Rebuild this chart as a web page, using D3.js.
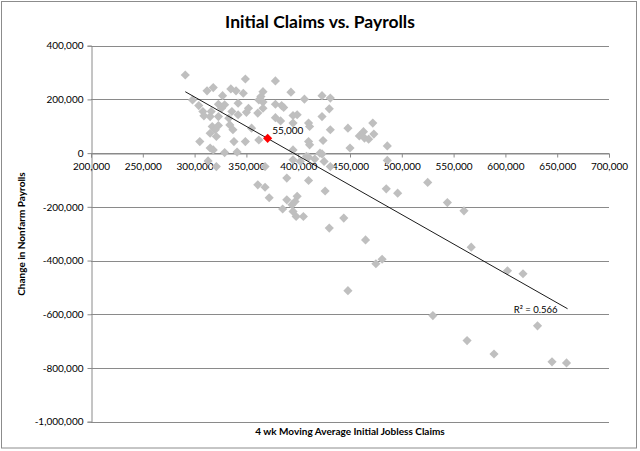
<!DOCTYPE html>
<html>
<head>
<meta charset="utf-8">
<script src="https://cdn.jsdelivr.net/npm/d3@7"></script>
<style>
  html, body { margin: 0; padding: 0; background: #fff; }
  svg { display: block; font-family: Lato, "Open Sans", sans-serif; }
</style>
</head>
<body>
<svg id="chart" width="640" height="451"></svg>
<script>
// Weekly observations: x = 4-wk moving average initial claims, y = change in nonfarm payrolls
const claims = [
  291,298,304,308,309,305,312,318,316,315,317,320,323,321,315,323,326,323,327,329,
  333,335,340,342,336,342,334,337,338,349,347,352,350,355,349,362,361,362,364,366,
  366,366,378,378,384,386,378,383,393,399,395,395,406,410,411,410,411,395,423,431,
  430,423,431,424,448,450,459,463,464,468,472,473,486,315,318,329,341,313,321,421,
  408,395,402,410,416,423,425,431,486,368,389,410,361,368,372,426,389,399,397,394,
  385,395,398,405,444,430,485,496,525,544,560,465,475,481,448,567,602,617,530,631,
  563,589,645,659
].map(v => v * 1000);
const payrolls = [
  291,198,177,155,139,43,232,244,155,136,99,87,103,62,74,136,167,182,214,180,
  130,239,232,186,155,143,105,87,43,276,223,167,152,93,43,49,149,198,211,229,
  190,167,269,182,177,170,132,120,227,143,140,112,201,112,99,43,31,12,214,205,
  165,136,87,47,93,19,64,80,56,52,112,71,27,19,12,2,4,-29,-50,0,
  -12,-25,-31,-15,-22,-3,-31,-50,-27,-50,-93,-102,-118,-127,-166,-141,-174,-161,-180,-192,
  -208,-217,-236,-236,-242,-279,-133,-149,-109,-184,-215,-323,-412,-395,-512,-350,-438,-449,-605,-643,
  -698,-748,-777,-781
].map(v => v * 1000);

// Highlighted latest observation
const latestClaims = [370500];
const latestPayrolls = [55000];
const latestLabel = ["55,000"];

// Linear trend: y = slope * x + intercept
const trendSlope = -2.19;
const trendIntercept = 866000;
const trendRange = [291000, 660000];
const trendLabel = "R\u00B2 = 0.566";

const xTicks = [200000,250000,300000,350000,400000,450000,500000,550000,600000,650000,700000];
const yTicks = [400000,200000,0,-200000,-400000,-600000,-800000,-1000000];

const title = "Initial Claims vs. Payrolls";
const xTitle = "4 wk Moving Average Initial Jobless Claims";
const yTitle = "Change in Nonfarm Payrolls";

const svg = d3.select("#chart");
const W = 640, H = 451;
const plot = { left: 91, right: 609, top: 45.7, bottom: 421.7 };

const x = d3.scaleLinear().domain([200000, 700000]).range([plot.left, plot.right]);
const y = d3.scaleLinear().domain([-1000000, 400000]).range([plot.bottom, plot.top]);
const fmt = d => d3.format(",")(d).replace("\u2212", "-");

// outer border
svg.append("rect").attr("x", 1.5).attr("y", 1.5).attr("width", W - 5).attr("height", H - 4.5)
  .attr("fill", "#fff").attr("stroke", "#8c8c8c").attr("stroke-width", 1);

// title
svg.append("text").attr("x", 320).attr("y", 28).attr("text-anchor", "middle")
  .attr("font-size", 17.5).attr("font-weight", "bold").attr("fill", "#000").text(title);

// horizontal gridlines
svg.append("g").selectAll("line").data(yTicks).join("line")
  .attr("x1", plot.left).attr("x2", plot.right)
  .attr("y1", d => Math.round(y(d)) + 0.5).attr("y2", d => Math.round(y(d)) + 0.5)
  .attr("stroke", "#8a8a8a").attr("stroke-width", 1);

// y axis
const yAxis = d3.axisLeft(y).tickValues(yTicks).tickFormat(fmt).tickSize(4).tickPadding(4);
const gy = svg.append("g").attr("transform", `translate(${plot.left + 0.5},0)`).call(yAxis);
gy.select(".domain").attr("stroke", "#8a8a8a");
gy.selectAll(".tick line").attr("stroke", "#8a8a8a");
gy.selectAll(".tick text").attr("font-size", 10).attr("font-family", "Lato, sans-serif").attr("fill", "#000");

// x axis at y = 0
const xAxis = d3.axisBottom(x).tickValues(xTicks).tickFormat(fmt).tickSize(4).tickPadding(5);
const gx = svg.append("g").attr("transform", `translate(0,${Math.round(y(0)) + 0.5})`).call(xAxis);
gx.select(".domain").attr("stroke", "#8a8a8a");
gx.selectAll(".tick line").attr("stroke", "#8a8a8a");
gx.selectAll(".tick text").attr("font-size", 10).attr("font-family", "Lato, sans-serif").attr("fill", "#000");

// points
const diamond = d3.symbol().type(d3.symbolSquare).size(42);
svg.append("g").selectAll("path").data(d3.range(claims.length)).join("path")
  .attr("d", diamond)
  .attr("transform", i => `translate(${x(claims[i])},${y(payrolls[i])}) rotate(45)`)
  .attr("fill", "#bfbfbf");

// trend line
const tl = trendRange.map(v => [x(v), y(trendSlope * v + trendIntercept)]);
svg.append("line")
  .attr("x1", tl[0][0]).attr("y1", tl[0][1]).attr("x2", tl[1][0]).attr("y2", tl[1][1])
  .attr("stroke", "#000").attr("stroke-width", 0.9);

// latest point
svg.append("g").selectAll("path").data(latestClaims).join("path")
  .attr("d", diamond)
  .attr("transform", (d, i) => `translate(${x(d)},${y(latestPayrolls[i])}) rotate(45)`)
  .attr("fill", "#ff0000");
svg.append("g").selectAll("text").data(latestClaims).join("text")
  .attr("x", (d) => x(d) + 4.5)
  .attr("y", (d, i) => y(latestPayrolls[i]) - 4)
  .attr("font-size", 10).attr("fill", "#000").text((d, i) => latestLabel[i]);

// R^2 label
svg.append("text").attr("x", x(trendRange[1]) - 10).attr("y", y(trendSlope * trendRange[1] + trendIntercept) + 4.5)
  .attr("text-anchor", "end").attr("font-size", 9.5).attr("fill", "#000").text(trendLabel);

// axis titles
svg.append("text").attr("x", 350).attr("y", 434.5).attr("text-anchor", "middle")
  .attr("font-size", 10).attr("font-weight", "bold").attr("fill", "#000").text(xTitle);
svg.append("text").attr("transform", "translate(25,234) rotate(-90)").attr("text-anchor", "middle")
  .attr("font-size", 10).attr("font-weight", "bold").attr("fill", "#000").text(yTitle);
</script>
</body>
</html>
